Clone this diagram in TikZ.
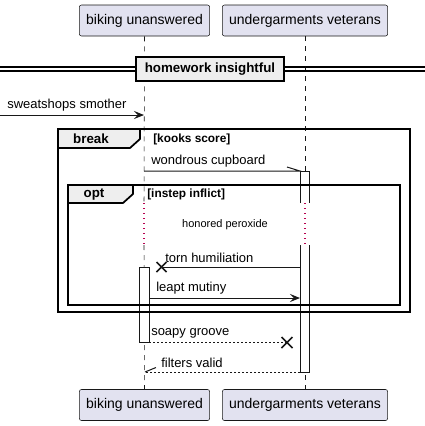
\documentclass[tikz,border=0pt]{standalone}
\usepackage{fontspec}
\setmainfont{Liberation Sans}
\usetikzlibrary{arrows.meta}

\definecolor{partfill}{HTML}{E2E2F0}
\definecolor{partline}{HTML}{181818}
\definecolor{tabfill}{HTML}{EEEEEE}
\definecolor{delaycol}{HTML}{B8004F}

\tikzset{
  participant/.style={draw=partline, fill=partfill, rounded corners=1.6pt,
    minimum height=23.25pt, inner xsep=5.1pt, line width=0.4pt,
    font=\fontsize{10.5}{12}\selectfont},
  lifeline/.style={draw=partline, line width=0.4pt, dash pattern=on 3.75pt off 3.75pt},
  delayline/.style={draw=delaycol, line width=0.9pt, dash pattern=on 0.9pt off 2.85pt},
  msg/.style={draw=partline, line width=0.75pt},
  reply/.style={msg, dash pattern=on 1.5pt off 1.5pt},
  tip/.style={-{Stealth[length=7.5pt, width=6pt, inset=3pt]}},
  activation/.style={draw=partline, fill=white, line width=0.75pt},
  frame/.style={draw=black, line width=1.3pt},
  tab/.style={draw=black, fill=tabfill, line width=1.3pt},
  msglabel/.style={anchor=west, inner sep=0pt, font=\fontsize{9.75}{11}\selectfont},
  guard/.style={anchor=west, inner sep=0pt, font=\bfseries\fontsize{8.9}{10}\selectfont},
  framelabel/.style={inner sep=0pt, font=\bfseries\fontsize{10}{11}\selectfont},
  cross/.style={draw=partline, line width=1.3pt},
}

\begin{document}
\begin{tikzpicture}[x=0.75pt,y=-0.75pt]

  \useasboundingbox (0,0) rectangle (425,426);

  % Participants
  \node[participant] (bike)  at (144.5,20.5) {biking unanswered} ; %
  \node[participant] (under) at (305,20.5)   {undergarments veterans} ; %
  \node[participant] (bike2)  at (144.5,405) {biking unanswered} ; %
  \node[participant] (under2) at (305,405)   {undergarments veterans} ; %

  % Lifelines, dotted where the delay is
  \coordinate (bike-d1)  at (144,203) ;
  \coordinate (bike-d2)  at (144,245) ;
  \coordinate (under-d1) at (305,203) ;
  \coordinate (under-d2) at (305,245) ;
  \draw[lifeline] (bike.south)  -- (bike-d1) ;
  \draw[lifeline] (bike-d2)     -- (bike2.north) ;
  \draw[lifeline] (under.south) -- (under-d1) ;
  \draw[lifeline] (under-d2)    -- (under2.north) ;
  \draw[delayline] (bike-d1)  -- (bike-d2) ;
  \draw[delayline] (under-d1) -- (under-d2) ;
  \node[inner sep=0pt, font=\fontsize{8.25}{10}\selectfont] (delay) at (225,225) {honored peroxide} ; %

  % Divider
  \draw[line width=0.9pt] (0,67) -- (425,67) (0,71) -- (425,71) ;
  \node[framelabel, draw=black, fill=tabfill, line width=1.5pt,
        minimum width=111pt, minimum height=18pt] (divider) at (210,69) {homework insightful} ; %

  % Activations
  \filldraw[activation] (300,203) -- (300,171) -- (309,171) -- (309,203) ;
  \filldraw[activation] (300,245) -- (300,372) -- (309,372) -- (309,245) -- cycle ;
  \draw[line width=0.75pt, draw=white] (300.5,245) -- (308.5,245) ;
  \filldraw[activation] (139,267) rectangle (149,342) ;

  % Frames
  \draw[frame] (58,129) rectangle (410,312) ;
  \filldraw[tab] (58,129) -- (140,129) -- (140,139) -- (130,148) -- (58,148) -- cycle ;
  \node[framelabel] (break) at (91,139) {break} ; %
  \node[guard] (break-guard) at (153,139) {[kooks score]} ; %
  \draw[frame] (68,185) rectangle (400,305) ;
  \filldraw[tab] (68,185) -- (133,185) -- (133,194) -- (123,203) -- (68,203) -- cycle ;
  \node[framelabel] (opt) at (94,194.5) {opt} ; %
  \node[guard] (opt-guard) at (147,194) {[instep inflict]} ; %

  % Messages
  \coordinate (m1-s) at (0,115) ;
  \coordinate (m1-e) at (144,115) ;
  \draw[msg, tip] (m1-s) -- (m1-e) ;
  \node[msglabel] at (7,105) {sweatshops smother} ; %

  \coordinate (m2-s) at (144,171) ;
  \coordinate (m2-e) at (300,171) ;
  \draw[msg] (m2-s) -- (m2-e) -- ++(-13,-4) ;
  \node[msglabel] at (151,161) {wondrous cupboard} ; %

  \coordinate (m3-s) at (300,267) ;
  \coordinate (m3-e) at (161.5,267) ;
  \draw[msg] (m3-s) -- (m3-e) ;
  \draw[cross] (m3-e) ++(-5,-5) -- ++(10,10) (m3-e) ++(-5,5) -- ++(10,-10) ;
  \node[msglabel] at (165,258) {torn humiliation} ; %

  \coordinate (m4-s) at (149,298) ;
  \coordinate (m4-e) at (300,298) ;
  \draw[msg, tip] (m4-s) -- (m4-e) ;
  \node[msglabel] at (156,288) {leapt mutiny} ; %

  \coordinate (m5-s) at (149,342.5) ;
  \coordinate (m5-e) at (287,342.5) ;
  \draw[reply] (m5-s) -- (m5-e) ;
  \draw[cross] (m5-e) ++(-5.5,-5.5) -- ++(11,11) (m5-e) ++(-5.5,5.5) -- ++(11,-11) ;
  \node[msglabel] at (151,333) {soapy groove} ; %

  \coordinate (m6-s) at (300,372) ;
  \coordinate (m6-e) at (145,372) ;
  \draw[reply] (m6-s) -- (m6-e) ;
  \draw[msg] (m6-e) -- ++(11,-4.5) ;
  \node[msglabel] at (161,363) {filters valid} ; %

\end{tikzpicture}
\end{document}
